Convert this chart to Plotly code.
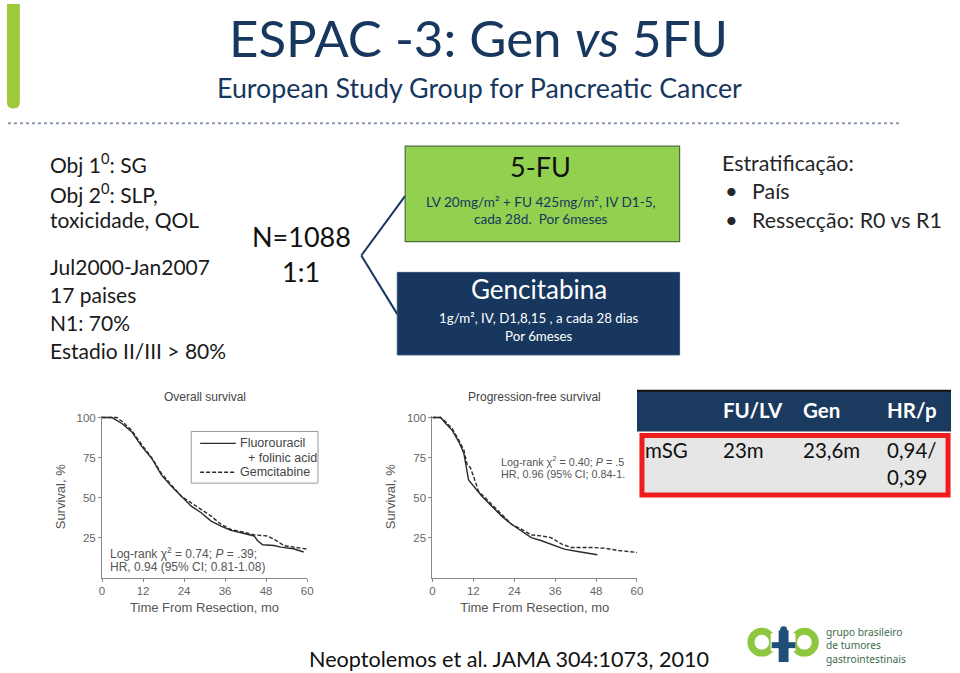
import plotly.graph_objects as go

W, H = 960, 673
def X(x): return x / W
def Y(y): return 1 - y / H

# ---------------- data ----------------
os_fu_t = [0, 2.9, 5.8, 8.7, 11.6, 14.5, 17.4, 20.3, 23.2, 26.1, 29.0, 31.9, 34.8, 37.7, 40.7, 44.5, 45.5, 47.0, 50.3, 52.3, 56.0, 59.0]
os_fu_s = [100, 100, 96.3, 91, 82, 74.6, 64, 57, 50.8, 44.6, 40.5, 35.3, 32.2, 29.5, 28, 26, 23, 20.5, 20, 19, 18, 16]
os_gem_t = [0, 4.3, 5.8, 8.7, 11.6, 14.5, 17.4, 20.3, 23.2, 26.1, 29.0, 31.9, 34.8, 37.7, 40.7, 44.5, 48.4, 50.3, 53.2, 56.0, 60.0]
os_gem_s = [100, 100, 97.7, 92, 83, 75, 65, 57.6, 50.8, 46.7, 42.6, 38.4, 33.3, 30, 28.7, 26.7, 26, 24, 20, 19, 17.8]
pfs_fu_t = [0, 2.4, 3.9, 5.8, 7.7, 9.2, 10.6, 12.6, 14.5, 17.4, 20.3, 23.2, 26.1, 29.0, 32.0, 34.8, 38.7, 42.6, 46.5, 48.4]
pfs_fu_s = [100, 100, 96.3, 92, 85, 77.7, 61, 56, 50.8, 44.6, 38.4, 33.3, 29, 25, 23, 21, 17.8, 16.3, 15, 14.3]
pfs_gem_t = [0, 2.4, 3.9, 5.8, 7.7, 9.2, 10.2, 11.1, 12.1, 13.5, 17.4, 20.3, 23.2, 26.1, 29.0, 32.0, 34.8, 37.8, 40.7, 46.5, 50.3, 54.2, 60.0]
pfs_gem_s = [100, 100, 97.3, 93, 86, 79.8, 70.5, 68.8, 63, 54, 45.7, 39.5, 33.3, 30.2, 26.7, 26, 25, 21, 18.8, 18.8, 18.4, 17, 15.7]

x_ticks = [0, 12, 24, 36, 48, 60]
y_ticks = [25, 50, 75, 100]

table_header = ["", "FU/LV", "Gen", "HR/p"]
table_row = ["mSG", "23m", "23,6m", "0,94/<br>0,39"]

left_lines = ["Obj 1<sup>0</sup>: SG", "Obj 2<sup>0</sup>: SLP,", "toxicidade, QOL",
              "Jul2000-Jan2007", "17 paises", "N1: 70%", "Estadio II/III > 80%"]
strat_title = "Estratificação:"
strat_items = ["País", "Ressecção: R0 vs R1"]

# ---------------- figure ----------------
CF = "Liberation Sans, Arial, sans-serif"
SF = "Lato, Calibri, sans-serif"
NAVY = "#17375e"
CURVE = "#2b2b2b"

fig = go.Figure()
fig.add_trace(go.Scatter(x=os_fu_t, y=os_fu_s, mode="lines", line=dict(color=CURVE, width=1.4),
                         xaxis="x", yaxis="y", showlegend=False, hoverinfo="skip"))
fig.add_trace(go.Scatter(x=os_gem_t, y=os_gem_s, mode="lines", line=dict(color=CURVE, width=1.4, dash="4px,2px"),
                         xaxis="x", yaxis="y", showlegend=False, hoverinfo="skip"))
fig.add_trace(go.Scatter(x=pfs_fu_t, y=pfs_fu_s, mode="lines", line=dict(color=CURVE, width=1.4),
                         xaxis="x2", yaxis="y2", showlegend=False, hoverinfo="skip"))
fig.add_trace(go.Scatter(x=pfs_gem_t, y=pfs_gem_s, mode="lines", line=dict(color=CURVE, width=1.4, dash="4px,2px"),
                         xaxis="x2", yaxis="y2", showlegend=False, hoverinfo="skip"))

def xax(domain, anchor):
    return dict(domain=domain, anchor=anchor, range=[0, 60], tickvals=x_ticks, showgrid=False, zeroline=False,
                showline=True, linecolor="#888", linewidth=1, ticks="outside", ticklen=3, tickcolor="#888",
                tickfont=dict(family=CF, size=11.5, color="#666"),
                title=dict(text="Time From Resection, mo", font=dict(family=CF, size=13, color="#555"), standoff=6))

def yax(domain, anchor):
    return dict(domain=domain, anchor=anchor, range=[0, 101], tickvals=y_ticks, showgrid=False, zeroline=False,
                showline=True, linecolor="#888", linewidth=1, ticks="outside", ticklen=3, tickcolor="#888",
                tickfont=dict(family=CF, size=11.5, color="#666"),
                title=dict(text="Survival, %", font=dict(family=CF, size=13, color="#555"), standoff=8))

ydom = [Y(577), Y(414.4)]
fig.update_layout(
    width=W, height=H, margin=dict(l=0, r=0, t=0, b=0),
    paper_bgcolor="white", plot_bgcolor="rgba(0,0,0,0)",
    xaxis=xax([X(100), X(307)], "y"), yaxis=yax(ydom, "x"),
    xaxis2=xax([X(433.5), X(640)], "y2"), yaxis2=yax(ydom, "x2"),
)

shapes = []
ann = []

def text(x, y, t, size, color="#1a1a1a", family=SF, xa="left", ya="middle", **kw):
    ann.append(dict(x=X(x), y=Y(y), xref="paper", yref="paper", text=t, showarrow=False,
                    xanchor=xa, yanchor=ya, font=dict(family=family, size=size, color=color), **kw))

def rect(x0, y0, x1, y1, fill, line=None, lw=0, layer="above"):
    shapes.append(dict(type="rect", xref="paper", yref="paper", x0=X(x0), x1=X(x1), y0=Y(y1), y1=Y(y0),
                       fillcolor=fill, line=dict(color=line or fill, width=lw), layer=layer))

def seg(x0, y0, x1, y1, color, w, dash="solid"):
    shapes.append(dict(type="line", xref="paper", yref="paper", x0=X(x0), x1=X(x1), y0=Y(y0), y1=Y(y1),
                       line=dict(color=color, width=w, dash=dash), layer="above"))

# green bar top-left
shapes.append(dict(type="path", xref="paper", yref="paper",
                   path=f"M {X(4)},{Y(0)} L {X(17)},{Y(0)} L {X(17)},{Y(98)} Q {X(17)},{Y(105)} {X(11)},{Y(105)} "
                        f"L {X(10)},{Y(105)} Q {X(4)},{Y(105)} {X(4)},{Y(98)} Z",
                   fillcolor="#9dc93b", line=dict(width=0), layer="above"))

# title
text(480, 34, "ESPAC -3: Gen <i>vs</i> 5FU", 51, NAVY, xa="center")
text(481, 85, "European Study Group for Pancreatic Cancer", 26.8, NAVY, xa="center")
seg(5, 120, 905, 120, "#8a9bb0", 2, "dot")

# left text
left_y = [160, 190, 217, 264, 292, 320, 349]
for t, yy in zip(left_lines, left_y):
    text(45, yy, t, 21, "#1a1a1a")

text(301, 234, "N=1088", 27, "#111", xa="center")
text(301, 269, "1:1", 27, "#111", xa="center")
seg(361.7, 253, 406, 193, NAVY, 2)
seg(361.7, 253, 398, 312, NAVY, 2)

# treatment boxes
rect(406, 143, 683, 239, "#92d050", "#4f6d3a", 1.2)
text(543, 163, "5-FU", 27, "#111", xa="center")
text(543, 199, "LV 20mg/m² + FU 425mg/m², IV D1-5,", 13.6, NAVY, xa="center")
text(543, 216, "cada 28d.  Por 6meses", 13.6, NAVY, xa="center")

rect(398, 270, 683, 353, NAVY, "#2c4d73", 1)
text(541, 287, "Gencitabina", 26, "white", xa="center")
text(541, 316, "1g/m², IV, D1,8,15 , a cada 28 dias", 13.3, "white", xa="center")
text(541, 334, "Por 6meses", 13.3, "white", xa="center")

# stratification
text(724, 160, strat_title, 21.4, "#262626")
for t, yy in zip(strat_items, [188, 217]):
    text(727, yy, "•", 22, "#262626")
    text(754, yy, t, 21.4, "#262626")

# chart titles & notes
text(204, 395, "Overall survival", 12, "#444", family=CF, xa="center")
text(537, 395, "Progression-free survival", 12, "#444", family=CF, xa="center")

# OS legend box
shapes.append(dict(type="rect", xref="paper", yref="paper", x0=X(190), x1=X(318), y0=Y(482), y1=Y(430),
                   fillcolor="white", line=dict(color="#999", width=1), layer="above"))
seg(199, 442, 235, 442, CURVE, 1.4)
seg(199, 471, 235, 471, CURVE, 1.4, "4px,2px")
text(237, 442, "Fluorouracil", 12.5, "#444", family=CF)
text(245, 456.5, "+ folinic acid", 12.5, "#444", family=CF)
text(237, 471, "Gemcitabine", 12.5, "#444", family=CF)

text(106, 552, "Log-rank χ<sup>2</sup> = 0.74; <i>P</i> = .39;", 12, "#555", family=CF)
text(106, 566, "HR, 0.94 (95% CI; 0.81-1.08)", 12, "#555", family=CF)
text(501, 460, "Log-rank χ<sup>2</sup> = 0.40; <i>P</i> = .5", 10.8, "#555", family=CF)
text(501, 473, "HR, 0.96 (95% CI; 0.84-1.", 10.8, "#555", family=CF)

# table
rect(640, 389, 957, 430, "#1b3a5f")
seg(640, 389, 957, 389, "#111", 2)
rect(645, 434, 954, 494, "#e6e6e6", "#ee1c1c", 5)
col_x = [646, 725, 806, 890]
for t, xx in zip(table_header, col_x):
    if t:
        text(xx, 408, f"<b>{t}</b>", 20.5, "white")
for t, xx in zip(table_row, col_x):
    text(xx, 435, t, 20.5, "#111", ya="top", align="left")

# reference
text(511, 659, "Neoptolemos et al. JAMA 304:1073, 2010", 21.6, "#111", xa="center")

# logo
LG = "#8dc63f"
for cx in (766, 809):
    shapes.append(dict(type="circle", xref="paper", yref="paper", x0=X(cx - 11), x1=X(cx + 11),
                       y0=Y(653), y1=Y(631), fillcolor="rgba(0,0,0,0)",
                       line=dict(color=LG, width=7), layer="above"))
rect(775, 633, 800, 651, "white")
rect(783, 630, 793, 662, "#1f4e79")
rect(776, 642, 800, 648, "#1f4e79")
shapes.append(dict(type="circle", xref="paper", yref="paper", x0=X(784.5), x1=X(791.5), y0=Y(633), y1=Y(626),
                   fillcolor="#1f4e79", line=dict(width=0), layer="above"))
text(829, 645, "grupo brasileiro<br>de tumores<br>gastrointestinais", 10.2, "#3e6b4a",
     family="Noto Sans", align="left")

fig.update_layout(shapes=shapes, annotations=ann)
fig.write_html("out.html")
